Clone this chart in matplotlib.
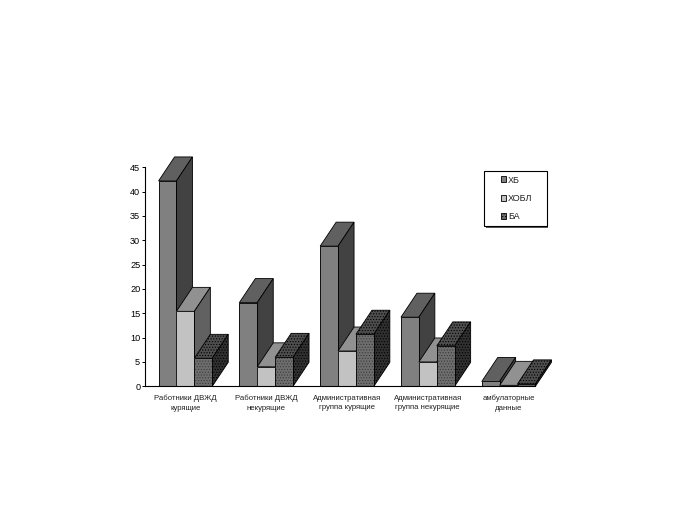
import matplotlib

matplotlib.use("Agg")

import matplotlib.pyplot as plt
import numpy as np
from matplotlib.patches import Patch, Polygon, Rectangle

plt.rcParams["font.family"] = ["Liberation Sans", "DejaVu Sans"]
plt.rcParams["hatch.linewidth"] = 0.5

categories = [
    "Работники ДВЖД\nкурящие",
    "Работники ДВЖД\nнекурящие",
    "Административная\nгруппа курящие",
    "Административная\nгруппа некурящие",
    "амбулаторные\nданные",
]
series_names = ["ХБ", "ХОБЛ", "БА"]
hb = [42.2, 17.2, 28.8, 14.2, 1.0]
hobl = [15.4, 4.0, 7.25, 5.0, 0.2]
ba = [5.75, 5.95, 10.7, 8.3, 0.5]
y_ticks = [0, 5, 10, 15, 20, 25, 30, 35, 40, 45]

FIG_W, FIG_H = 700, 525
# plot box in image pixels
LEFT, RIGHT, TOP, BOTTOM = 145, 549, 167.3, 386.3
BAR_W = 0.2215
DEPTH_X = 0.198
DEPTH_Y = 4.93

front_colors = ["#808080", "#c2c2c2", "#6e6e6e"]
top_colors = ["#606060", "#919191", "#4e4e4e"]
side_colors = ["#424242", "#616161", "#303030"]
hatches = [None, None, "......"]


def draw_bar(ax, x, value, idx):
    hatch = hatches[idx]
    edge = "black"
    hatch_color = "#3a3a3a" if hatch else edge
    top = [(x, value), (x + BAR_W, value), (x + BAR_W + DEPTH_X, value + DEPTH_Y), (x + DEPTH_X, value + DEPTH_Y)]
    side = [(x + BAR_W, 0), (x + BAR_W + DEPTH_X, DEPTH_Y), (x + BAR_W + DEPTH_X, value + DEPTH_Y), (x + BAR_W, value)]
    for points, color in ((top, top_colors[idx]), (side, side_colors[idx])):
        ax.add_patch(Polygon(points, closed=True, facecolor=color, edgecolor=edge, linewidth=0.6, clip_on=False, hatch=hatch))
    ax.add_patch(Rectangle((x, 0), BAR_W, value, facecolor=front_colors[idx], edgecolor=hatch_color, linewidth=0, hatch=hatch, clip_on=False))
    ax.add_patch(Rectangle((x, 0), BAR_W, value, facecolor="none", edgecolor=edge, linewidth=0.6, clip_on=False))


fig = plt.figure(figsize=(FIG_W / 100, FIG_H / 100), dpi=100)
ax = fig.add_axes([LEFT / FIG_W, 1 - BOTTOM / FIG_H, (RIGHT - LEFT) / FIG_W, (BOTTOM - TOP) / FIG_H])
ax.patch.set_alpha(0)

positions = np.arange(len(categories))
for pos, group in zip(positions, zip(hb, hobl, ba)):
    start = pos + 0.5 - 1.5 * BAR_W
    for idx, value in enumerate(group):
        draw_bar(ax, start + idx * BAR_W, value, idx)

ax.set_xlim(0, len(categories))
ax.set_ylim(0, 45)
ax.set_yticks(y_ticks)
ax.set_xticks(positions + 0.5)
ax.set_xticklabels(categories, fontsize=5.6, color="#222222", linespacing=1.55)
ax.tick_params(axis="x", length=0, pad=6)
ax.tick_params(axis="y", length=2.4, width=0.7, labelsize=6.6, pad=1)
for name in ("top", "right"):
    ax.spines[name].set_visible(False)
for name in ("left", "bottom"):
    ax.spines[name].set_linewidth(0.8)
ax.spines["bottom"].set_bounds(0, 4.83)

# legend box with its drop shadow, drawn by hand to get the wide left margin
box_x, box_y, box_w, box_h = 484.3 / FIG_W, 1 - 226.3 / FIG_H, 62.4 / FIG_W, 55.6 / FIG_H
fig.add_artist(Rectangle((box_x + 1.5 / FIG_W, box_y - 1.5 / FIG_H), box_w, box_h, transform=fig.transFigure, facecolor="#555555", edgecolor="none"))
fig.add_artist(Rectangle((box_x, box_y), box_w, box_h, transform=fig.transFigure, facecolor="white", edgecolor="black", linewidth=0.8))

handles = [
    Patch(facecolor=front_colors[i], edgecolor="black", linewidth=0.6, hatch=hatches[i])
    for i in range(len(series_names))
]
legend = fig.legend(
    handles,
    series_names,
    loc="center left",
    bbox_to_anchor=(500.5 / FIG_W, 1 - 198.5 / FIG_H),
    fontsize=6.5,
    frameon=False,
    borderaxespad=0,
    borderpad=0,
    handlelength=0.62,
    handleheight=0.62,
    handletextpad=0.2,
    labelspacing=1.05,
)
for text in legend.get_texts():
    text.set_color("#222222")

fig.savefig("out.png", dpi=100)
